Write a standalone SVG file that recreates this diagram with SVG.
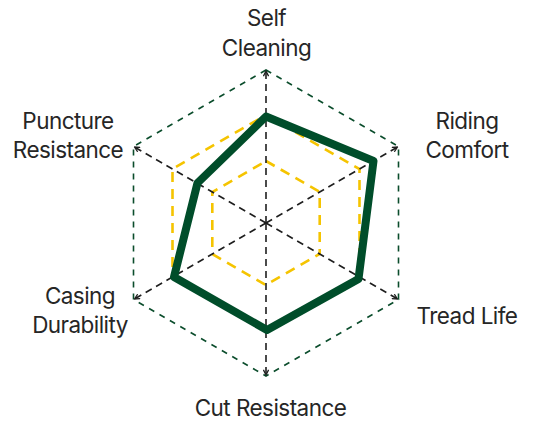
<svg xmlns="http://www.w3.org/2000/svg" width="533" height="425" viewBox="0 0 533 425">
<style>
.lbl{font-family:Inter,"Noto Sans","Liberation Sans",sans-serif;font-size:22.5px;letter-spacing:-0.55px;fill:#262626;text-anchor:middle}
.ring{fill:none;stroke:#0b4d2c;stroke-width:1.6;stroke-dasharray:6 6}
.grid{fill:none;stroke:#f5c400;stroke-width:2.6;stroke-dasharray:10 7}
.axis{fill:none;stroke:#1e1e1e;stroke-width:1.6;stroke-dasharray:7 5;marker-end:url(#arr)}
.data{fill:none;stroke:#004d2a;stroke-width:8;stroke-linejoin:round}
</style>
<defs>
<marker id="arr" viewBox="0 0 10 10" refX="9" refY="5" markerWidth="4" markerHeight="4" orient="auto" markerUnits="strokeWidth">
<path d="M1,1 L9,5 L1,9" fill="none" stroke="#1e1e1e" stroke-width="2"/>
</marker>
</defs>
<g id="grid">
<polygon class="ring" points="266,70 398.5,146.5 398.5,299.5 266,376 133.5,299.5 133.5,146.5"/>
<polygon class="grid" points="266,115 359.5,169 359.5,277 266,331 172.5,277 172.5,169"/>
<polygon class="grid" points="266,161 319.7,192 319.7,254 266,285 212.3,254 212.3,192"/>
</g>
<g id="connectors">
<line class="axis" x1="266" y1="223" x2="266" y2="71"/>
<line class="axis" x1="266" y1="223" x2="397.5" y2="147"/>
<line class="axis" x1="266" y1="223" x2="397.5" y2="299"/>
<line class="axis" x1="266" y1="223" x2="266" y2="375"/>
<line class="axis" x1="266" y1="223" x2="134.5" y2="299"/>
<line class="axis" x1="266" y1="223" x2="134.5" y2="147"/>
</g>
<g id="data">
<polygon class="data" points="266,116.5 373.5,161 358.5,279 267,330 174,277 197.5,183"/>
</g>
<g id="label-self-cleaning"><text class="lbl" x="266.5" y="26">Self</text><text class="lbl" x="266.5" y="55.5">Cleaning</text></g>
<g id="label-riding-comfort"><text class="lbl" x="467" y="128.5">Riding</text><text class="lbl" x="467" y="158">Comfort</text></g>
<g id="label-tread-life"><text class="lbl" x="467" y="323.5">Tread Life</text></g>
<g id="label-cut-resistance"><text class="lbl" x="270.5" y="415.5">Cut Resistance</text></g>
<g id="label-casing-durability"><text class="lbl" x="80" y="303.5">Casing</text><text class="lbl" x="80" y="333">Durability</text></g>
<g id="label-puncture-resistance"><text class="lbl" x="68" y="128.5">Puncture</text><text class="lbl" x="68" y="158">Resistance</text></g>
</svg>
